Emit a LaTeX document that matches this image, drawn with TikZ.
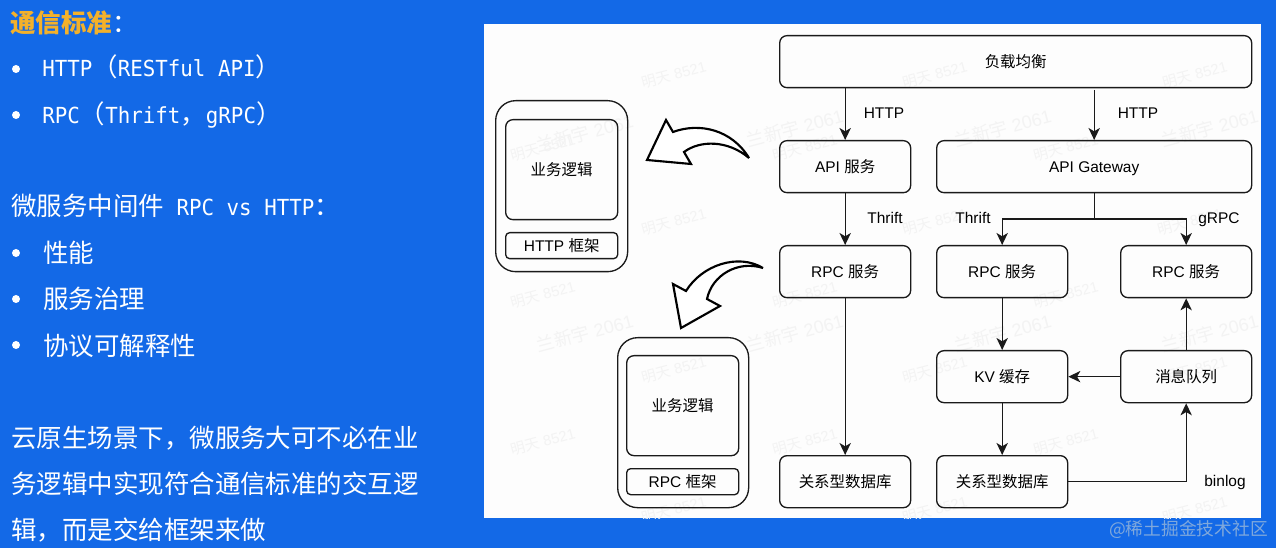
\documentclass[tikz,border=0pt]{standalone}
\usepackage{fontspec}
\setmainfont{Liberation Sans}
\newfontfamily\cjk{Noto Sans CJK SC}
\newfontfamily\mono[FakeStretch=0.94]{DejaVu Sans Mono}
\usetikzlibrary{arrows.meta}
\definecolor{bgblue}{HTML}{1369E7}
\definecolor{panel}{HTML}{FDFDFD}
\definecolor{ink}{HTML}{1A1A1A}
\definecolor{gold}{HTML}{F3B12B}
\definecolor{wm}{HTML}{F3F3F3}
\definecolor{credit}{HTML}{7FA8DC}
\tikzset{
  x=0.75pt,y=-0.75pt,
  box/.style={draw=ink,line width=1pt,rounded corners=5.5pt,inner sep=0pt,anchor=north west,align=center,text height=10pt,text depth=1.6pt,font=\fontsize{11.6}{14}\selectfont},
  arr/.style={draw=ink,line width=1pt,-{Stealth[length=9pt,width=8.5pt,inset=2.5pt]}},
  lnk/.style={draw=ink,line width=1pt},
  lbl/.style={font=\fontsize{11.6}{14}\selectfont,text=black,inner sep=0pt,text height=10pt,text depth=1.6pt},
  say/.style={text=white,inner sep=0pt,anchor=base west,font=\fontsize{19.1}{23}\selectfont},
  dot/.style={circle,fill=white,minimum size=6pt,inner sep=0pt},
  bigarrow/.style={draw=black,line width=1.6pt,fill=white,line join=miter,miter limit=4},
  shell/.style={draw=ink,line width=1pt,rounded corners=15pt,anchor=north west},
  wmtext/.style={text=wm,rotate=15,inner sep=0pt,font=\fontsize{11}{13}\selectfont},
}
\newcommand{\bx}[6]{\node[box,minimum width=#4*0.75pt,minimum height=#5*0.75pt] (#1) at (#2,#3) {#6};}
\newcommand{\bigc}{\fontsize{19.1}{23}\selectfont\cjk}
\newcommand{\bodyfont}{\fontsize{16.6}{23}\selectfont\mono}
\begin{document}
\begin{tikzpicture}
\path[use as bounding box,fill=bgblue] (0,0) rectangle (1276,548);
\fill[panel] (484,24) rectangle (1261,518);
% watermarks
\begin{scope}
\clip (484,24) rectangle (1261,518);
\foreach \p/\q [count=\i] in {935/75,1195/75,674/75,543/148,805/148,1066/148,674/222,935/222,1190/222,543/295,805/295,1066/295,674/370,935/370,1195/370,543/442,805/442,1066/442,674/510,935/510,1195/510}
  \node[wmtext] (wa\i) at (\p,\q) {{\cjk 明天} 8521};
\foreach \p/\q [count=\i] in {585/133,795/128,1003/128,1210/128,585/333,795/333,1003/333,1210/333}
  \node[wmtext,font=\fontsize{13.5}{16}\selectfont] (wb\i) at (\p,\q) {{\cjk 兰新宇} 2061};
\end{scope}
% left text
\node[say,font=\fontsize{19.1}{23}\selectfont\bfseries\cjk,text=gold] (t1) at (10,33) {通信标准};
\node[say,font=\bigc] (t1c) at (112,33) {：};
\node[dot] (d1) at (16,69) {};
\node[say,font=\bodyfont] (t2) at (42,77) {HTTP{\bigc （}RESTful API{\bigc ）}};
\node[dot] (d2) at (16,115) {};
\node[say,font=\bodyfont] (t3) at (42,124) {RPC{\bigc （}Thrift{\bigc ，}gRPC{\bigc ）}};
\node[say,font=\bodyfont] (t4) at (11,216) {{\bigc 微服务中间件} RPC vs HTTP{\bigc ：}};
\node[dot] (d3) at (16,253) {};
\node[say,font=\bigc] (t5) at (43,263) {性能};
\node[dot] (d4) at (16,299) {};
\node[say,font=\bigc] (t6) at (43,309) {服务治理};
\node[dot] (d5) at (16,345) {};
\node[say,font=\bigc] (t7) at (43,355) {协议可解释性};
\node[say,font=\bigc] (t8) at (11,447) {云原生场景下，微服务大可不必在业};
\node[say,font=\bigc] (t9) at (11,493) {务逻辑中实现符合通信标准的交互逻};
\node[say,font=\bigc] (t10) at (11,539) {辑，而是交给框架来做};
% right architecture boxes
\bx{lb}{779}{35}{472}{52}{{\cjk 负载均衡}}
\bx{api}{779}{140}{131}{52}{API {\cjk 服务}}
\bx{gw}{936}{140}{315}{52}{API Gateway}
\bx{rpca}{779}{245}{131}{52}{RPC {\cjk 服务}}
\bx{rpcb}{936}{245}{131}{52}{RPC {\cjk 服务}}
\bx{rpcc}{1120}{245}{131}{52}{RPC {\cjk 服务}}
\bx{kv}{936}{350}{131}{52}{KV {\cjk 缓存}}
\bx{mq}{1120}{350}{131}{52}{{\cjk 消息队列}}
\bx{dba}{779}{455}{131}{52}{{\cjk 关系型数据库}}
\bx{dbb}{936}{455}{131}{52}{{\cjk 关系型数据库}}
% connectors
\coordinate (gwtop) at (gw.north |- 0,90);
\coordinate (split) at (gw.south |- 0,219);
\draw[arr] (api.north |- lb.south) -- (api.north);
\draw[arr] (gwtop) -- (gw.north);
\draw[arr] (api) -- (rpca);
\draw[lnk] (gw.south) -- (split);
\draw[arr] (split) -| (rpcb.north);
\draw[arr] (split) -| (rpcc.north);
\draw[arr] (rpca) -- (dba);
\draw[arr] (rpcb) -- (kv);
\draw[arr] (kv) -- (dbb);
\draw[arr] (mq) -- (kv);
\draw[arr] (mq) -- (rpcc);
\draw[arr] (dbb.east) -| (mq.south);
% connector labels
\node[lbl] (l1) at (884,113) {HTTP};
\node[lbl] (l2) at (1138,113) {HTTP};
\node[lbl] (l3) at (885,218) {Thrift};
\node[lbl] (l4) at (973,218) {Thrift};
\node[lbl] (l5) at (1219,218) {gRPC};
\node[lbl] (l6) at (1225,481) {binlog};
% HTTP stack
\node[shell,minimum width=132*0.75pt,minimum height=171*0.75pt] (hs) at (495,100) {};
\bx{hlogic}{505}{119}{112}{100}{{\cjk 业务逻辑}}
\node[box,rounded corners=3pt,minimum width=112*0.75pt,minimum height=26*0.75pt] (hfw) at (505,232) {HTTP {\cjk 框架}};
% RPC stack
\node[shell,minimum width=131*0.75pt,minimum height=170*0.75pt] (rs) at (617,337) {};
\bx{rlogic}{626}{355}{112}{100}{{\cjk 业务逻辑}}
\node[box,rounded corners=3pt,minimum width=112*0.75pt,minimum height=26*0.75pt] (rfw) at (626,468) {RPC {\cjk 框架}};
% big curved arrows
\draw[bigarrow] (647,160) -- (666,120) -- (673,132) .. controls (700,122) and (732,130) .. (749,158)
  .. controls (728,140) and (700,140) .. (684,152) -- (691,164) -- cycle;
\draw[bigarrow] (681,328) -- (673,284) -- (686,291) .. controls (702,265) and (738,253) .. (763,268)
  .. controls (738,260) and (712,275) .. (707,299) -- (720,306) -- cycle;
% credit
\node[anchor=east,inner sep=0pt,text=credit,font=\fontsize{13.3}{15}\selectfont\cjk] (credit) at (1268,530) {@稀土掘金技术社区};
\end{tikzpicture}
\end{document}
